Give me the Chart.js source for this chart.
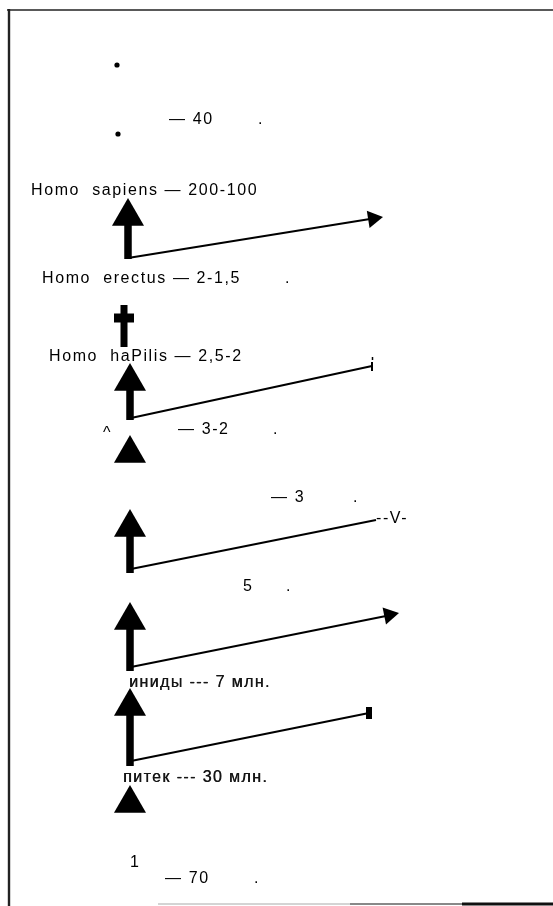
<!DOCTYPE html>
<html><head><meta charset="utf-8">
<script src="https://cdn.jsdelivr.net/npm/chart.js@4.4.1/dist/chart.umd.min.js"></script>
<style>html,body{margin:0;padding:0;background:#fff;overflow:hidden}canvas{display:block}</style>
</head><body>
<div style="width:553px;height:906px;position:relative"><canvas id="c" width="553" height="906"></canvas></div>
<script>
// ---- Data (diagram units: x 0..553 left→right, y 0..906 top→bottom) ----
// Stage labels along the evolutionary trunk (text, left x, baseline y)
const labelTexts = ['— 40', '.', 'Homo  sapiens — 200-100', 'Homo  erectus — 2-1,5', '.',
  'Homo  haPilis — 2,5-2', '^', '— 3-2', '.', '— 3', '.', '--V-', '5', '.',
  'иниды --- 7 млн.', 'питек --- 30 млн.', '1', '— 70', '.'];
const labelX = [169, 258, 31, 42, 285, 49, 103, 178, 273, 271, 353, 376, 243, 286, 129, 123, 130, 165, 254];
const labelY = [124, 124, 195, 283, 283, 361, 438, 434, 434, 502, 502, 523, 591, 591, 687, 782, 867, 883, 883];
const scannedLabels = [14, 15];

// Bullet dots at the top
const dotX = [117, 118];
const dotY = [65, 134];

// Trunk stems (thick vertical segments)
const stemX = [128, 130, 130, 130, 130];
const stemTop = [222, 386, 528, 628, 708];
const stemBottom = [259, 420, 573, 671, 766];

// Upward arrowheads on the trunk (tip positions)
const headX = [128, 130, 130, 130, 130, 130, 130];
const headTipY = [198, 363, 435, 509, 602, 688, 785];

// Side branches (start → end)
const branchStartX = [128, 131, 131, 131, 131];
const branchStartY = [258, 418, 569, 667, 761];
const branchEndX = [370, 372, 376, 386, 369];
const branchEndY = [219, 366, 520, 616, 713];
const branchEnd = ['arrow', 'tick', 'none', 'arrow', 'block'];
const branchTipX = [383, 372, 376, 399, 369];
const branchTipY = [217, 366, 520, 613, 713];

// Extinction dagger (Homo erectus)
const daggerX = 124, daggerTop = 305, daggerBottom = 347;
const crossY = 318, crossLeft = 114, crossRight = 134;

// Frame of the scanned page
const frameTopY = 10, frameLeftX = 9, frameBottomY = 904;
const frameBottomFaint = [158, 350], frameBottomGrey = [350, 462], frameBottomDark = [462, 553];

// ---- Build datasets ----
const seg = (x1, y1, x2, y2, w, color) => ({
  data: [{x: x1, y: y1}, {x: x2, y: y2}], showLine: true, pointRadius: 0,
  borderColor: color || '#000', borderWidth: w, borderCapStyle: 'butt', fill: false
});
const datasets = [];
// frame
datasets.push(seg(7, frameTopY, 553, frameTopY, 1.6, '#222'));
datasets.push(seg(frameLeftX, frameTopY - 1, frameLeftX, 906, 2.4, '#222'));
datasets.push(seg(frameBottomFaint[0], frameBottomY, frameBottomFaint[1], frameBottomY, 2, '#d4d4d4'));
datasets.push(seg(frameBottomGrey[0], frameBottomY, frameBottomGrey[1], frameBottomY, 2, '#888'));
datasets.push(seg(frameBottomDark[0], frameBottomY, frameBottomDark[1], frameBottomY, 3, '#111'));
// stems
stemX.forEach((x, i) => datasets.push(seg(x, stemTop[i], x, stemBottom[i], 7.5)));
// branches
branchStartX.forEach((x, i) => datasets.push(seg(x, branchStartY[i], branchEndX[i], branchEndY[i], 2.2)));
// branch ends
branchEnd.forEach((kind, i) => {
  if (kind === 'arrow') {
    const ang = Math.atan2(branchTipY[i] - branchStartY[i], branchTipX[i] - branchStartX[i]);
    const r = 10;
    datasets.push({
      data: [{x: branchTipX[i] - r * Math.cos(ang), y: branchTipY[i] - r * Math.sin(ang)}],
      pointStyle: 'triangle', pointRadius: r, pointRotation: ang * 180 / Math.PI + 90,
      pointBackgroundColor: '#000', pointBorderWidth: 0, showLine: false
    });
  } else if (kind === 'tick') {
    datasets.push(seg(branchTipX[i], branchTipY[i] - 4, branchTipX[i], branchTipY[i] + 5, 2));
    datasets.push(seg(branchTipX[i] + 0.5, branchTipY[i] - 9, branchTipX[i] + 0.5, branchTipY[i] - 6, 1.5));
  } else if (kind === 'block') {
    datasets.push(seg(branchTipX[i], branchTipY[i] - 6, branchTipX[i], branchTipY[i] + 6, 6));
  }
});
// dagger
datasets.push(seg(daggerX, daggerTop, daggerX, daggerBottom, 7));
datasets.push(seg(crossLeft, crossY, crossRight, crossY, 9));
// up arrowheads
const headR = 18.5;
datasets.push({
  data: headX.map((x, i) => ({x, y: headTipY[i] + headR})),
  pointStyle: 'triangle', pointRadius: headR, pointBackgroundColor: '#000',
  pointBorderWidth: 0, showLine: false
});
// dots
datasets.push({
  data: dotX.map((x, i) => ({x, y: dotY[i]})),
  pointStyle: 'circle', pointRadius: 2.6, pointBackgroundColor: '#000',
  pointBorderWidth: 0, showLine: false
});

const labelPlugin = {
  id: 'labels',
  afterDatasetsDraw(chart) {
    const {ctx, scales: {x, y}} = chart;
    ctx.save();
    ctx.textBaseline = 'alphabetic';
    ctx.textAlign = 'left';
    labelTexts.forEach((t, i) => {
      const scanned = scannedLabels.includes(i);
      ctx.font = '16px "Liberation Sans", Arial, sans-serif';
      ctx.letterSpacing = scanned ? '1.4px' : '1.6px';
      ctx.fillStyle = scanned ? '#161616' : '#000';
      const px = x.getPixelForValue(labelX[i]), py = y.getPixelForValue(labelY[i]);
      ctx.fillText(t, px, py);
      if (scanned) { ctx.fillText(t, px + 0.4, py); }
    });
    ctx.restore();
  }
};

new Chart(document.getElementById('c'), {
  type: 'scatter',
  data: {datasets},
  options: {
    responsive: false, animation: false, events: [], devicePixelRatio: 1,
    layout: {padding: 0, autoPadding: false},
    plugins: {legend: {display: false}, tooltip: {enabled: false}},
    scales: {
      x: {type: 'linear', min: 0, max: 553, display: false},
      y: {type: 'linear', min: 0, max: 906, reverse: true, display: false}
    }
  },
  plugins: [labelPlugin]
});
</script>
</body></html>
